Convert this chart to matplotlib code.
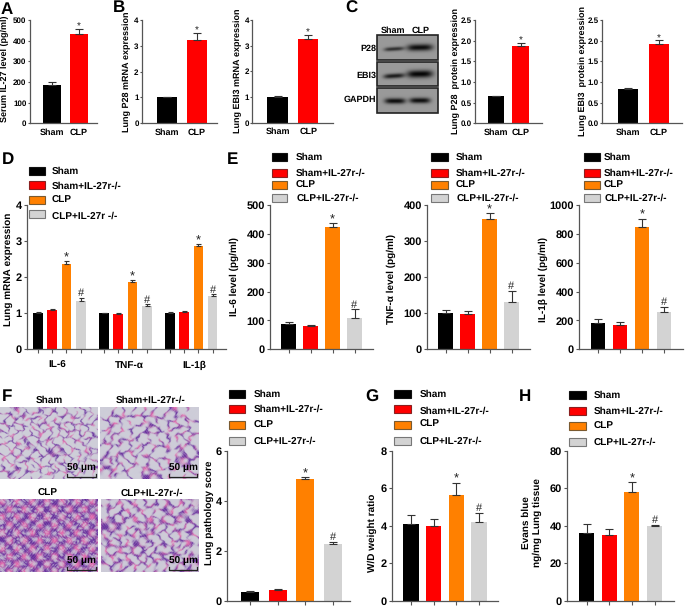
import numpy as np
import matplotlib
matplotlib.use("Agg")
import matplotlib.pyplot as plt
from matplotlib.patches import Rectangle

plt.rcParams["font.family"] = ["Liberation Sans", "DejaVu Sans"]
plt.rcParams["font.weight"] = "bold"
plt.rcParams["text.hinting"] = "none"
plt.rcParams["text.hinting_factor"] = 1

W, H = 685, 606
BLACK, RED, ORANGE, GREY = "#000000", "#ff0000", "#ff8000", "#d3d3d3"
AXC = "#555555"
groups4 = ["Sham", "Sham+IL-27r-/-", "CLP", "CLP+IL-27r-/-"]
colors4 = [BLACK, RED, ORANGE, GREY]

# panel A-C
serum_vals = [185, 430]
serum_errs = [15, 27]
p28_mrna_vals = [1.0, 3.22]
p28_mrna_errs = [0.03, 0.28]
ebi3_mrna_vals = [1.0, 3.27]
ebi3_mrna_errs = [0.03, 0.15]
p28_prot_vals = [0.65, 1.86]
p28_prot_errs = [0.02, 0.09]
ebi3_prot_vals = [0.82, 1.91]
ebi3_prot_errs = [0.04, 0.10]

# panel D
genes = ["IL-6", "TNF-α", "IL-1β"]
mrna_vals = [[1.0, 1.08, 2.36, 1.34], [1.0, 0.99, 1.86, 1.20], [1.0, 1.04, 2.85, 1.47]]
mrna_errs = [[0.03, 0.03, 0.08, 0.08], [0.02, 0.01, 0.06, 0.05], [0.03, 0.03, 0.06, 0.06]]

# panel E
il6_vals = [88, 81, 425, 107]
il6_errs = [6, 4, 13, 32]
tnf_vals = [102, 99, 362, 130]
tnf_errs = [6, 6, 16, 32]
il1b_vals = [185, 170, 850, 260]
il1b_errs = [22, 20, 55, 35]

# panels F-H
score_vals = [0.36, 0.42, 4.85, 2.28]
score_errs = [0.02, 0.04, 0.08, 0.08]
wd_vals = [4.07, 4.0, 5.62, 4.2]
wd_errs = [0.52, 0.35, 0.68, 0.5]
evans_vals = [36.3, 35, 58.2, 39.8]
evans_errs = [4.6, 3.2, 5.2, 0.8]

fig = plt.figure(figsize=(W / 100, H / 100), dpi=100)

# overlay in pixel coordinates for legends, letters and pictures
ov = fig.add_axes([0, 0, 1, 1], zorder=5)
ov.set_xlim(0, W)
ov.set_ylim(H, 0)
ov.axis("off")
ov.patch.set_alpha(0)


def new_axes(x0, x1, ytop, y0):
    ax = fig.add_axes([x0 / W, 1 - y0 / H, (x1 - x0) / W, (y0 - ytop) / H])
    ax.patch.set_alpha(0)
    for s in ["top", "right"]:
        ax.spines[s].set_visible(False)
    for s in ["left", "bottom"]:
        ax.spines[s].set_color(AXC)
        ax.spines[s].set_linewidth(0.9)
    return ax


def mark(ax, x, y, txt, size):
    ax.annotate(txt, (x, y), xytext=(0, -2 if txt == "*" else -0.5), textcoords="offset points",
                ha="center", va="bottom", fontsize=size if txt == "*" else size - 1,
                fontweight="normal", color="#222222")


def ylab(txt, x, y, size):
    ov.text(x, y, txt, rotation=90, fontsize=size, ha="center", va="center", linespacing=1.25)


def bars(box, c0, step, barw, vals, errs, colors, ylim, yticks, ylabel, lab_xy, fmt="%d",
         names=None, fs=8.2, lab_fs=7.2, mark_fs=9, name_fs=6.4):
    x0, x1, ytop, y0 = box
    ax = new_axes(x0, x1, ytop, y0)
    xs = np.arange(len(vals))
    ax.bar(xs, vals, width=barw / step, color=colors, edgecolor="none")
    ax.errorbar(xs, vals, yerr=[np.zeros(len(vals)), errs], fmt="none", ecolor="#333333",
                elinewidth=0.8, capsize=2.6, capthick=0.8)
    ax.set_xlim((x0 - c0) / step, (x1 - c0) / step)
    ax.set_ylim(*ylim)
    ax.set_yticks(yticks, [fmt % t for t in yticks], fontsize=fs)
    if names:
        ax.tick_params(axis="y", length=1.6, width=0.8, color=AXC, pad=0.6)
        ax.set_xticks(xs, names, fontsize=name_fs)
        ax.tick_params(axis="x", length=0, pad=3.5)
        mark(ax, 1, vals[1] + errs[1], "*", mark_fs)
    else:
        ax.tick_params(axis="y", length=2.5, width=0.8, color=AXC, pad=1)
        ax.set_xticks(xs, [""] * len(xs))
        ax.tick_params(axis="x", length=3, width=0.8, color=AXC)
        mark(ax, 2, vals[2] + errs[2], "*", mark_fs)
        mark(ax, 3, vals[3] + errs[3], "#", mark_fs)
    ylab(ylabel, lab_xy[0], lab_xy[1], lab_fs)
    return ax


def legend(x0, x1, ys, tx, labels=groups4, tys=None, txs=None):
    tys = tys or ys
    txs = txs or [tx] * 4
    edges = ["#111111", "#8a2020", "#7a5a30", "#777777"]
    for i in range(4):
        ov.add_patch(Rectangle((x0, ys[i] - 3.8), x1 - x0, 7.6, facecolor=colors4[i],
                               edgecolor=edges[i], linewidth=0.8))
        ov.text(txs[i], tys[i], labels[i], fontsize=7.2, va="center", ha="left")


def gel(x0, x1, y0, y1, bands):
    # blot strip: grey membrane with dark gaussian bands
    n_x, n_y = int((x1 - x0) * 2), int((y1 - y0) * 2)
    gx, gy = np.meshgrid(np.linspace(x0, x1, n_x), np.linspace(y0, y1, n_y))
    img = np.full(gx.shape, 0.60)
    for cx, hw, cy, hh, amp, tilt in bands:
        prof = np.exp(-(np.abs((gx - cx) / hw) ** 4))
        img -= amp * prof * np.exp(-(((gy - cy + tilt * (gx - cx)) / hh) ** 2))
    ov.imshow(np.clip(img, 0, 1), extent=(x0, x1, y1, y0), cmap="gray", vmin=0, vmax=1,
              aspect="auto", interpolation="bilinear", zorder=1)
    ov.add_patch(Rectangle((x0, y0), x1 - x0, y1 - y0, fill=False, edgecolor="#222222",
                           linewidth=1.2, zorder=2))


def frac_hash(k, a):
    p = (k * a) % 1
    p = p * (p + 33.33)
    return (p * (p + p)) % 1


def tissue(x0, x1, y0, y1, nx, ny, wall, fill, shift):
    # alveolar-looking web on a jittered grid of seeds, only a backdrop picture
    n_x, n_y = int((x1 - x0) * 3), int((y1 - y0) * 3)
    gx, gy = np.meshgrid(np.linspace(0, 1, n_x), np.linspace(0, 1, n_y))
    ix, iy = np.meshgrid(np.arange(nx), np.arange(ny))
    ix, iy = ix.ravel(), iy.ravel()
    k = ix + iy * nx + 1.0 + shift
    px = (ix + 0.5 + 0.95 * (frac_hash(k, 0.1031) - 0.5)) / nx
    py = (iy + 0.5 + 0.95 * (frac_hash(k, 0.1137) - 0.5)) / ny
    wx = gx + 0.02 * np.sin(gy * 23 + shift) + 0.008 * np.sin(gy * 71 + gx * 31)
    wy = gy + 0.025 * np.sin(gx * 19 + shift) + 0.010 * np.sin(gx * 67 - gy * 37)
    d = np.sqrt(((wx[..., None] - px) * (x1 - x0)) ** 2 + ((wy[..., None] - py) * (y1 - y0)) ** 2)
    d.sort(axis=2)
    web = np.exp(-(((d[..., 1] - d[..., 0]) / wall) ** 2))
    grain = 0.5 + 0.5 * np.sin(gx * 290 + 3 * np.sin(gy * 37)) * np.sin(gy * 220 + 3 * np.sin(gx * 29))
    gaps = np.clip(0.85 + 0.9 * np.sin(gx * 47 + shift) * np.sin(gy * 38 - shift), 0, 1)
    t = np.clip(web * gaps * (0.35 + 1.2 * grain) + fill * grain, 0, 1)[..., None]
    pink = np.clip(0.75 * np.sin(gx * 41 + shift) * np.sin(gy * 29 + shift) + 0.3, 0, 1)[..., None]
    bg = np.array([0.81, 0.81, 0.85])
    purple = np.array([0.38, 0.14, 0.60])
    rose = np.array([0.90, 0.38, 0.66])
    cell = purple * (1 - pink) + rose * pink
    img = bg * (1 - t) + cell * t
    ov.imshow(img, extent=(x0, x1, y1, y0), aspect="auto", interpolation="bilinear", zorder=1)


def scale(x0, x1, y, ty):
    ov.plot([x0, x0, x1, x1], [y - 3, y, y, y - 3], color="#222222", lw=0.9, zorder=3)
    ov.text((x0 + x1) / 2, ty, "50 μm", fontsize=7, ha="center", va="center", zorder=3)


# top row
top = dict(names=["Sham", "CLP"], fs=5.7, lab_fs=6.6, mark_fs=7.5)
bars((29.5, 97, 20, 123.3), 52, 27, 18, serum_vals, serum_errs, [BLACK, RED], (0, 500),
     [0, 100, 200, 300, 400, 500], "Serum IL-27 level (pg/ml)", (5, 69), **top)
bars((141.7, 217, 20, 123.3), 167, 30, 20, p28_mrna_vals, p28_mrna_errs, [BLACK, RED], (0, 4),
     [0, 1, 2, 3, 4], "Lung P28 mRNA expression", (127, 72), **top)
bars((252.3, 333, 20, 122.7), 277.5, 30.7, 20.5, ebi3_mrna_vals, ebi3_mrna_errs, [BLACK, RED], (0, 4),
     [0, 1, 2, 3, 4], "Lung EBI3 mRNA expression", (238, 71), **top)
bars((475, 542, 20, 123.3), 496, 24.7, 16.7, p28_prot_vals, p28_prot_errs, [BLACK, RED], (0, 2.5),
     [0, 0.5, 1, 1.5, 2, 2.5], "Lung P28  protein expression", (456, 71), fmt="%.1f", **top)
bars((602, 682, 20, 123.3), 628, 31, 20.5, ebi3_prot_vals, ebi3_prot_errs, [BLACK, RED], (0, 2.5),
     [0, 0.5, 1, 1.5, 2, 2.5], "Lung EBI3  protein expression", (583, 71), fmt="%.1f", **top)

# western blot
gel(377, 438, 35, 60, [(394, 10, 49, 2.0, 0.42, 0.06), (420, 13, 47.5, 3.4, 0.55, 0.02)])
gel(377, 438, 62, 86, [(394, 10.5, 76, 2.4, 0.5, 0.06), (420, 13, 74, 3.8, 0.58, 0.02)])
gel(377, 438, 88, 113, [(395, 10.5, 101, 2.8, 0.55, 0), (420, 10.5, 100.5, 2.8, 0.55, 0)])
ov.text(393, 30.5, "Sham", fontsize=6.3, ha="center", va="center")
ov.text(421, 30.5, "CLP", fontsize=6.3, ha="center", va="center")
ov.text(376, 48.5, "P28", fontsize=6.3, ha="right", va="center")
ov.text(376, 75.5, "EBI3", fontsize=6.3, ha="right", va="center")
ov.text(376, 100, "GAPDH", fontsize=6.3, ha="right", va="center")

# panel D, grouped bars on a shared x positions array
ax = new_axes(26.7, 226, 205, 349.3)
step_d, group_gap = 14.3, 66.0
for g in range(3):
    xs = g * group_gap / step_d + np.arange(4)
    ax.bar(xs, mrna_vals[g], width=9.6 / step_d, color=colors4)
    ax.errorbar(xs, mrna_vals[g], yerr=[np.zeros(4), mrna_errs[g]], fmt="none", ecolor="#333333",
                elinewidth=0.8, capsize=1.8, capthick=0.8)
    mark(ax, xs[2], mrna_vals[g][2] + mrna_errs[g][2], "*", 9)
    mark(ax, xs[3], mrna_vals[g][3] + mrna_errs[g][3], "#", 9)
all_x = np.concatenate([g * group_gap / step_d + np.arange(4) for g in range(3)])
ax.set_xticks(all_x, [""] * 12)
# gene names sit a little off the group centres in the reference
gene_px = np.array([57, 129, 194])
ax.set_xticks((gene_px - 37.8) / step_d, genes, minor=True, fontsize=7.2)
ax.tick_params(axis="x", which="major", length=3, width=0.8, color=AXC)
ax.tick_params(axis="x", which="minor", length=0, pad=8)
ax.set_xlim((26.7 - 37.8) / step_d, (226 - 37.8) / step_d)
ax.set_ylim(0, 4)
ax.set_yticks([0, 1, 2, 3, 4], ["0", "1", "2", "3", "4"], fontsize=8.2)
ax.tick_params(axis="y", length=2.5, width=0.8, color=AXC, pad=1)
ylab("Lung mRNA expression", 8, 269, 7.2)

# panel E
bars((270, 372.7, 205, 349.3), 288.5, 22, 14.7, il6_vals, il6_errs, colors4, (0, 500),
     [0, 100, 200, 300, 400, 500], "IL-6 level (pg/ml)", (234, 277))
bars((427, 530, 205, 349.3), 445.5, 22, 14.7, tnf_vals, tnf_errs, colors4, (0, 400),
     [0, 100, 200, 300, 400], "TNF-α level (pg/ml)", (391, 279))
bars((579, 683, 205, 349.3), 598, 22, 14.7, il1b_vals, il1b_errs, colors4, (0, 1000),
     [0, 200, 400, 600, 800, 1000], "IL-1β level (pg/ml)", (543, 279))

# panels F, G, H
bars((226.7, 350, 450.7, 600.7), 250, 27.6, 18, score_vals, score_errs, colors4, (0, 6),
     [0, 2, 4, 6], "Lung pathology score", (209, 513))
bars((392, 498, 450.7, 600.7), 411, 22.7, 15.3, wd_vals, wd_errs, colors4, (0, 8),
     [0, 2, 4, 6, 8], "W/D weight ratio", (372, 533))
bars((567, 674, 450.7, 600.7), 586.5, 22.7, 15, evans_vals, evans_errs, colors4, (0, 80),
     [0, 20, 40, 60, 80], "Evans blue\nng/mg Lung tissue", (532, 523))

# histology pictures
tissue(0, 98, 407, 479, 12, 9, 1.2, 0.0, 3)
tissue(100, 199, 407, 479, 9, 7, 1.8, 0.02, 11)
tissue(0, 98, 499, 572, 26, 20, 1.7, 0.32, 29)
tissue(101, 199, 499, 572, 11, 8, 2.0, 0.05, 47)
ov.text(49, 400.5, "Sham", fontsize=7.2, ha="center", va="center")
ov.text(151, 400.5, "Sham+IL-27r-/-", fontsize=7.2, ha="center", va="center")
ov.text(48, 493.5, "CLP", fontsize=7.2, ha="center", va="center")
ov.text(152, 493.5, "CLP+IL-27r-/-", fontsize=7.2, ha="center", va="center")
scale(67, 96, 477, 468)
scale(169, 197, 477, 468)
scale(67, 96, 570, 561.5)
scale(169, 197, 570, 561.5)

# legends
legend(29, 45, [171, 185, 200, 214], 52, labels=groups4[:3] + ["CLP+IL-27r -/-"], tys=[171, 186, 200, 216])
legend(272, 287, [157, 173, 185, 198], 296, txs=[296, 296, 296, 297])
legend(431, 448, [157, 173, 185, 198], 456, txs=[456, 456, 456, 457])
legend(584, 600, [157, 173, 185, 198], 604, txs=[604, 604, 604, 605])
legend(229, 245, [394, 409, 425, 441], 254)
legend(394, 411, [394, 409, 425, 441], 420, tys=[394, 411, 424, 441])
legend(569, 586, [395, 411, 426, 442], 594)

# panel letters
for txt, x, y in [("A", 1, 10), ("B", 113, 7.5), ("C", 345, 8), ("D", 2, 160), ("E", 227, 160),
                  ("F", 2, 397), ("G", 365, 397), ("H", 519, 397)]:
    ov.text(x, y, txt, fontsize=12, ha="left", va="center")

ov.set_xlim(0, W)
ov.set_ylim(H, 0)
fig.savefig("out.png", dpi=100)
